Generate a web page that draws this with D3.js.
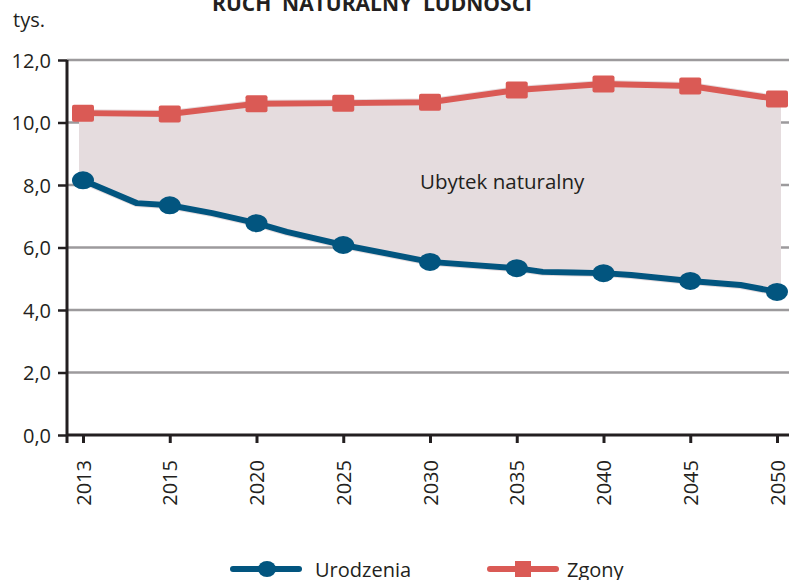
<!DOCTYPE html>
<html>
<head>
<meta charset="utf-8">
<script src="https://cdn.jsdelivr.net/npm/d3@7"></script>
<style>
  body { margin: 0; background: #fff; }
  svg { display: block; font-family: "Open Sans", sans-serif; }
</style>
</head>
<body>
<div id="chart-area"></div>
<script>
// years shown on the category axis
var years = ["2013", "2015", "2020", "2025", "2030", "2035", "2040", "2045", "2050"]
// thousands
var births = [8.15, 7.35, 6.78, 6.08, 5.54, 5.34, 5.18, 4.93, 4.58]
var deaths = [10.3, 10.27, 10.6, 10.62, 10.65, 11.04, 11.23, 11.17, 10.75]
// births line also bends between the markers
var birthsLinePos = [0, 0.62, 1, 1.49, 2, 2.35, 3, 4, 5, 5.3, 5.65, 6, 6.32, 7, 7.58, 8]
var birthsLineVal = [8.15, 7.42, 7.35, 7.1, 6.78, 6.5, 6.08, 5.54, 5.34, 5.22, 5.2, 5.18, 5.12, 4.93, 4.8, 4.58]
var yTicks = [0, 2, 4, 6, 8, 10, 12]

var title = "RUCH  NATURALNY  LUDNOŚCI"
var unitLabel = "tys."
var areaLabel = "Ubytek naturalny"
var seriesNames = ["Urodzenia", "Zgony"]

var blue = "#02557f"
var red = "#da5a55"
var fillColor = "#e5dcde"
var ink = "#231f20"
var font = "'Open Sans', sans-serif"

var W = 789, H = 580
var plot = {left: 67, right: 789, top: 60, bottom: 435}

var svg = d3.select("#chart-area")
    .append("svg")
    .attr("width", W)
    .attr("height", H)

var x = d3.scaleLinear()
    .domain([0, years.length - 1])
    .range([83, 777])

var y = d3.scaleLinear()
    .domain([0, 12])
    .range([plot.bottom, plot.top])

// gridlines
svg.append("g")
    .selectAll("line")
    .data(yTicks.filter(function(d){ return d > 0 }))
    .enter().append("line")
    .attr("x1", plot.left)
    .attr("x2", plot.right)
    .attr("y1", function(d){ return y(d) })
    .attr("y2", function(d){ return y(d) })
    .attr("stroke", "#9c9a9c")
    .attr("stroke-width", 2.5)

// natural decrease area: deaths on top, births line below
var areaPts = []
deaths.forEach(function(v, i){ areaPts.push([i, v]) })
for (var k = birthsLinePos.length - 1; k >= 0; k--) {
    areaPts.push([birthsLinePos[k], birthsLineVal[k]])
}
var poly = d3.line()
    .x(function(d){ return x(d[0]) })
    .y(function(d){ return y(d[1]) })

svg.append("path")
    .attr("d", poly(areaPts) + "Z")
    .attr("fill", fillColor)
    .attr("stroke", fillColor)
    .attr("stroke-width", 8)

// axes
var yAxis = d3.axisLeft(y)
    .tickValues(yTicks)
    .tickSize(9)
    .tickPadding(7)
    .tickFormat(function(d){ return d3.format(".1f")(d).replace(".", ",") })

var gy = svg.append("g")
    .attr("transform", "translate(" + plot.left + ",0)")
    .call(yAxis)
    .attr("font-family", font)
gy.select(".domain").remove()
gy.selectAll("line").attr("stroke", ink).attr("stroke-width", 2.5)
gy.selectAll("text")
    .attr("fill", ink)
    .style("font-size", "20px")
    .attr("dy", "0.36em")

var xAxis = d3.axisBottom(x)
    .tickValues(d3.range(years.length))
    .tickSize(8)
    .tickFormat(function(i){ return years[i] })

var gx = svg.append("g")
    .attr("transform", "translate(0," + plot.bottom + ")")
    .call(xAxis)
    .attr("font-family", font)
gx.select(".domain").remove()
gx.selectAll("line").attr("stroke", ink).attr("stroke-width", 3)
gx.selectAll("text")
    .attr("fill", ink)
    .style("font-size", "20px")
    .attr("text-anchor", "end")
    .attr("transform", "rotate(-90)")
    .attr("x", -25)
    .attr("y", 0)
    .attr("dy", "0.36em")

svg.append("line")
    .attr("x1", plot.left).attr("x2", plot.right)
    .attr("y1", plot.bottom).attr("y2", plot.bottom)
    .attr("stroke", ink).attr("stroke-width", 3)
svg.append("line")
    .attr("x1", plot.left).attr("x2", plot.left)
    .attr("y1", plot.top).attr("y2", plot.bottom + 8)
    .attr("stroke", ink).attr("stroke-width", 3)

// deaths
var line = d3.line()
    .x(function(d, i){ return x(i) })
    .y(function(d){ return y(d) })

svg.append("path")
    .attr("d", line(deaths))
    .attr("fill", "none")
    .attr("stroke", red)
    .attr("stroke-width", 6)
    .attr("stroke-linejoin", "round")

svg.append("g").selectAll("rect")
    .data(deaths)
    .enter().append("rect")
    .attr("x", function(d, i){ return x(i) - 11 })
    .attr("y", function(d){ return y(d) - 8.5 })
    .attr("width", 22)
    .attr("height", 17)
    .attr("rx", 2)
    .attr("fill", red)

// births
var birthPts = birthsLinePos.map(function(p, i){ return [p, birthsLineVal[i]] })
svg.append("path")
    .attr("d", poly(birthPts))
    .attr("fill", "none")
    .attr("stroke", blue)
    .attr("stroke-width", 6)
    .attr("stroke-linejoin", "round")

svg.append("g").selectAll("ellipse")
    .data(births)
    .enter().append("ellipse")
    .attr("cx", function(d, i){ return x(i) })
    .attr("cy", function(d){ return y(d) })
    .attr("rx", 11)
    .attr("ry", 9)
    .attr("fill", blue)

// texts
svg.append("text")
    .attr("x", 372)
    .attr("y", 11)
    .attr("text-anchor", "middle")
    .style("font-size", "21px")
    .style("font-weight", "bold")
    .style("white-space", "pre")
    .attr("fill", ink)
    .text(title)

svg.append("text")
    .attr("x", 13)
    .attr("y", 27)
    .style("font-size", "20px")
    .attr("fill", ink)
    .text(unitLabel)

svg.append("text")
    .attr("x", 420)
    .attr("y", 189)
    .style("font-size", "20.5px")
    .attr("fill", ink)
    .text(areaLabel)

// legend
var legend = [
    {name: seriesNames[0], color: blue, x: 233, tx: 315, marker: "circle"},
    {name: seriesNames[1], color: red, x: 490, tx: 567, marker: "square"}
]
var lg = svg.append("g").selectAll("g")
    .data(legend)
    .enter().append("g")

lg.append("line")
    .attr("x1", function(d){ return d.x })
    .attr("x2", function(d){ return d.x + 66 })
    .attr("y1", 569).attr("y2", 569)
    .attr("stroke", function(d){ return d.color })
    .attr("stroke-width", 6)
    .attr("stroke-linecap", "round")

lg.filter(function(d){ return d.marker == "circle" })
    .append("ellipse")
    .attr("cx", function(d){ return d.x + 34 })
    .attr("cy", 569)
    .attr("rx", 9).attr("ry", 8)
    .attr("fill", function(d){ return d.color })

lg.filter(function(d){ return d.marker == "square" })
    .append("rect")
    .attr("x", function(d){ return d.x + 25 })
    .attr("y", 561)
    .attr("width", 16).attr("height", 16)
    .attr("fill", function(d){ return d.color })

lg.append("text")
    .attr("x", function(d){ return d.tx })
    .attr("y", 577)
    .style("font-size", "20px")
    .attr("fill", ink)
    .text(function(d){ return d.name })
</script>
</body>
</html>
